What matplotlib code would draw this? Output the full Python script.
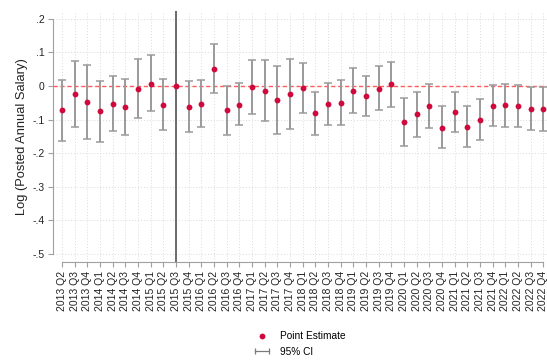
import matplotlib
matplotlib.use("Agg")
import matplotlib.pyplot as plt
from matplotlib.lines import Line2D
from matplotlib.legend_handler import HandlerLine2D

plt.rcParams['font.family'] = ['Liberation Sans', 'DejaVu Sans']

quarters = ["2013 Q2", "2013 Q3", "2013 Q4",
            "2014 Q1", "2014 Q2", "2014 Q3", "2014 Q4",
            "2015 Q1", "2015 Q2", "2015 Q3", "2015 Q4",
            "2016 Q1", "2016 Q2", "2016 Q3", "2016 Q4",
            "2017 Q1", "2017 Q2", "2017 Q3", "2017 Q4",
            "2018 Q1", "2018 Q2", "2018 Q3", "2018 Q4",
            "2019 Q1", "2019 Q2", "2019 Q3", "2019 Q4",
            "2020 Q1", "2020 Q2", "2020 Q3", "2020 Q4",
            "2021 Q1", "2021 Q2", "2021 Q3", "2021 Q4",
            "2022 Q1", "2022 Q2", "2022 Q3", "2022 Q4"]

estimate = [-0.073, -0.023, -0.047, -0.076, -0.055, -0.064, -0.009,
            0.006, -0.057, 0.0, -0.062, -0.053, 0.051, -0.073, -0.056,
            -0.004, -0.014, -0.043, -0.025, -0.007, -0.082, -0.055, -0.050,
            -0.015, -0.030, -0.008, 0.005, -0.107, -0.084, -0.060, -0.124,
            -0.078, -0.122, -0.100, -0.059, -0.057, -0.060, -0.068, -0.070]

ci_upper = [0.017, 0.075, 0.063, 0.016, 0.030, 0.020, 0.079,
            0.091, 0.020, None, 0.016, 0.017, 0.124, -0.001, 0.008,
            0.077, 0.076, 0.060, 0.079, 0.067, -0.017, 0.009, 0.017,
            0.052, 0.031, 0.060, 0.071, -0.036, -0.017, 0.007, -0.060,
            -0.018, -0.060, -0.040, 0.003, 0.006, 0.003, -0.002, -0.004]

ci_lower = [-0.164, -0.121, -0.158, -0.167, -0.134, -0.146, -0.095,
            -0.076, -0.132, None, -0.137, -0.121, -0.021, -0.146, -0.116,
            -0.083, -0.103, -0.144, -0.128, -0.080, -0.147, -0.117, -0.115,
            -0.080, -0.089, -0.072, -0.062, -0.178, -0.151, -0.126, -0.186,
            -0.138, -0.182, -0.161, -0.120, -0.121, -0.122, -0.130, -0.134]

reference_quarter = "2015 Q3"
yticks = [-0.5, -0.4, -0.3, -0.2, -0.1, 0.0, 0.1, 0.2]
ytick_labels = ["-.5", "-.4", "-.3", "-.2", "-.1", "0", ".1", ".2"]

point_color = "#D0093C"
ci_color = "#9A9A9A"
axis_color = "#A0A0A0"

fig = plt.figure(figsize=(5.47, 3.60), dpi=100)
ax = fig.add_axes([53/547, 1 - 262/360, 1 - 53/547, (262 - 11)/360])

x = list(range(len(quarters)))

# grid
for xi in x:
    ax.axvline(xi, color="#DADADA", lw=0.7, ls=(0, (1, 2)), zorder=0)
for yt in yticks:
    ax.axhline(yt, color="#DADADA", lw=0.7, ls=(0, (1, 2)), zorder=0)

# reference line and zero line
ref_idx = quarters.index(reference_quarter)
ax.axvline(ref_idx, color="#6A6A6A", lw=1.4, zorder=1)
ax.axhline(0, color="#FF5A5A", lw=1.0, ls=(0, (3, 2)), zorder=1)

# CIs
ci_x = [xi for xi, u in zip(x, ci_upper) if u is not None]
ci_mid = [(u + l) / 2 for u, l in zip(ci_upper, ci_lower) if u is not None]
ci_half = [(u - l) / 2 for u, l in zip(ci_upper, ci_lower) if u is not None]
ax.errorbar(ci_x, ci_mid, yerr=ci_half, fmt='none', ecolor=ci_color,
            elinewidth=1.4, capsize=3.2, capthick=1.1, zorder=2)

ax.plot(x, estimate, 'o', color=point_color, ms=4.2, mec='none', zorder=3)

ax.set_xlim(-(62 - 53) / 12.67, (547 - 62) / 12.67)
ax.set_ylim(-0.524, 0.223)

ax.set_xticks(x)
ax.set_xticklabels(quarters, rotation=90, fontsize=7.5, color="#222222")
ax.set_yticks(yticks)
ax.set_yticklabels(ytick_labels, fontsize=7.5, color="#222222")
ax.tick_params(axis='both', direction='out', length=3.5, width=0.8,
               color=axis_color, pad=2.5)
ax.tick_params(axis='x', pad=3)

for s in ["top", "right"]:
    ax.spines[s].set_visible(False)
ax.spines["left"].set_bounds(-0.5, 0.2)
ax.spines["bottom"].set_bounds(0, len(quarters) - 1)
ax.spines["left"].set_color(axis_color)
ax.spines["bottom"].set_color(axis_color)
ax.spines["left"].set_linewidth(0.8)
ax.spines["bottom"].set_linewidth(0.8)

ax.set_ylabel("Log (Posted Annual Salary)", fontsize=9.3, color="#222222", labelpad=3.5)

h_point = Line2D([], [], ls='none', marker='o', color=point_color, ms=4.2, mec='none')
h_ci = Line2D([], [], color="#7A7A7A", lw=0.9, marker='|', ms=4, mew=0.9)
fig.legend([h_point, h_ci], ["Point Estimate", "95% CI"],
           handler_map={h_point: HandlerLine2D(numpoints=1),
                        h_ci: HandlerLine2D(numpoints=2)},
           loc='center', bbox_to_anchor=(299/547, 1 - 344/360),
           frameon=False, fontsize=7.3, handlelength=2.0, handletextpad=0.8,
           labelspacing=0.55, borderpad=0)

fig.savefig("out.png", dpi=100)
